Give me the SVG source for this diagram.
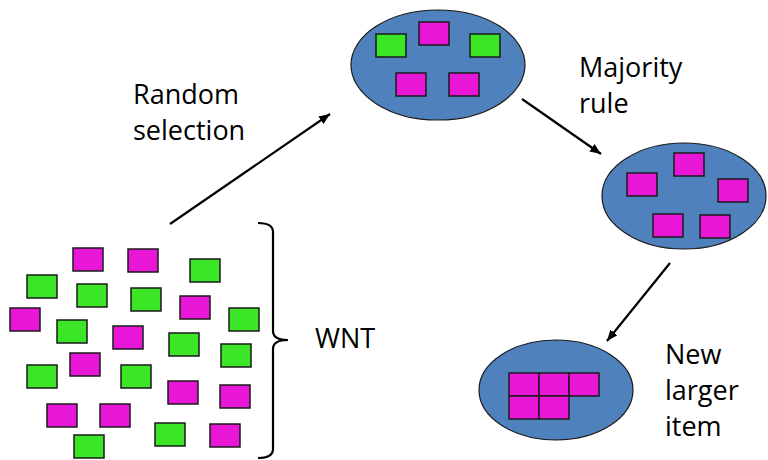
<svg xmlns="http://www.w3.org/2000/svg" width="768" height="460" viewBox="0 0 768 460">
<style>
.m{fill:#E816D6;stroke:#1a1a1a;stroke-width:1.5}
.g{fill:#3AE626;stroke:#1a1a1a;stroke-width:1.5}
.e{fill:#4F81BD;stroke:#1a1a1a;stroke-width:1.2}
.t{font-family:"Open Sans","Liberation Sans",sans-serif;font-size:27px;fill:#000}
.c{stroke:#000;stroke-width:2.2;fill:none}
</style>
<defs>
<marker id="ah" markerUnits="userSpaceOnUse" markerWidth="12" markerHeight="10" refX="11" refY="4.5" orient="auto">
<path d="M0,0 L11,4.5 L0,9 z" fill="#000"/>
</marker>
</defs>
<rect width="768" height="460" fill="#fff"/>
<g id="wnt-items">
<rect class="m" x="73" y="248" width="30" height="23"/>
<rect class="m" x="128" y="249" width="30" height="23"/>
<rect class="g" x="190" y="259" width="30" height="23"/>
<rect class="g" x="27" y="275" width="30" height="23"/>
<rect class="g" x="77" y="284" width="30" height="23"/>
<rect class="g" x="131" y="288" width="30" height="23"/>
<rect class="m" x="180" y="296" width="30" height="23"/>
<rect class="g" x="229" y="308" width="30" height="23"/>
<rect class="m" x="10" y="308" width="30" height="23"/>
<rect class="g" x="57" y="320" width="30" height="23"/>
<rect class="m" x="113" y="326" width="30" height="23"/>
<rect class="g" x="169" y="333" width="30" height="23"/>
<rect class="g" x="221" y="344" width="30" height="23"/>
<rect class="m" x="70" y="353" width="30" height="23"/>
<rect class="g" x="27" y="365" width="30" height="23"/>
<rect class="g" x="121" y="365" width="30" height="23"/>
<rect class="m" x="168" y="381" width="30" height="23"/>
<rect class="m" x="220" y="385" width="30" height="23"/>
<rect class="m" x="47" y="404" width="30" height="23"/>
<rect class="m" x="100" y="404" width="30" height="23"/>
<rect class="g" x="155" y="423" width="30" height="23"/>
<rect class="m" x="210" y="424" width="30" height="23"/>
<rect class="g" x="74" y="435" width="30" height="23"/>
</g>
<g id="wnt-brace">
<path class="c" d="M258,223 Q273,223 273,232 L273,331 Q273,340 288,340 Q273,340 273,349 L273,449 Q273,458 258,458"/>
<text class="t" x="315" y="348">WNT</text>
</g>
<g id="sample">
<ellipse class="e" cx="438" cy="65" rx="87" ry="55"/>
<rect class="g" x="376" y="34" width="30" height="23"/>
<rect class="m" x="419" y="22" width="30" height="23"/>
<rect class="g" x="470" y="34" width="30" height="23"/>
<rect class="m" x="396" y="73" width="30" height="23"/>
<rect class="m" x="449" y="73" width="30" height="23"/>
</g>
<g id="majority">
<ellipse class="e" cx="684" cy="196" rx="82" ry="53"/>
<rect class="m" x="674" y="153" width="30" height="23"/>
<rect class="m" x="627" y="173" width="30" height="23"/>
<rect class="m" x="718" y="179" width="30" height="23"/>
<rect class="m" x="653" y="214" width="30" height="23"/>
<rect class="m" x="700" y="215" width="30" height="23"/>
</g>
<g id="new-item">
<ellipse class="e" cx="556" cy="390" rx="77" ry="50"/>
<rect class="m" x="509" y="373" width="30" height="23"/>
<rect class="m" x="539" y="373" width="30" height="23"/>
<rect class="m" x="569" y="373" width="30" height="23"/>
<rect class="m" x="509" y="396" width="30" height="23"/>
<rect class="m" x="539" y="396" width="30" height="23"/>
</g>
<g id="connectors">
<line class="c" x1="170" y1="224" x2="330" y2="114" marker-end="url(#ah)"/>
<line class="c" x1="522" y1="99" x2="601" y2="154" marker-end="url(#ah)"/>
<line class="c" x1="670" y1="263" x2="607" y2="341" marker-end="url(#ah)"/>
</g>
<g id="labels">
<text class="t" x="133" y="104">Random</text>
<text class="t" x="133" y="140">selection</text>
<text class="t" x="579" y="77">Majority</text>
<text class="t" x="579" y="113">rule</text>
<text class="t" x="665" y="364">New</text>
<text class="t" x="665" y="400">larger</text>
<text class="t" x="665" y="436">item</text>
</g>
</svg>
